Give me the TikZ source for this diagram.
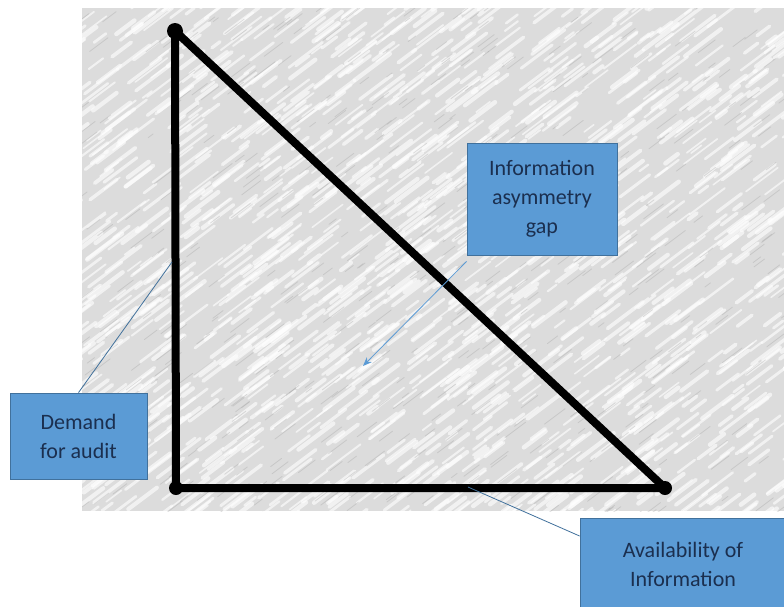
\documentclass[tikz,border=0pt]{standalone}
\usepackage{fontspec}
\setmainfont{Carlito}
\usetikzlibrary{arrows.meta}
\definecolor{boxfill}{HTML}{5B9BD5}
\definecolor{boxline}{HTML}{41719C}
\definecolor{boxtext}{HTML}{1B2F4F}
\definecolor{bggray}{HTML}{DCDCDC}
\tikzset{
  callout/.style={draw=boxline, fill=boxfill, line width=0.8pt, text=boxtext,
    align=center, font=\fontsize{22}{29}\selectfont, inner sep=0pt},
  leader/.style={draw=boxline, line width=0.8pt},
  edgeline/.style={draw=black, line width=8pt, line cap=round, line join=round}
}
\begin{document}
\begin{tikzpicture}[x=1pt,y=-1pt]
\useasboundingbox (0,0) rectangle (784,606);
\fill[white] (0,0) rectangle (784,606);
% textured background
\fill[bggray] (82,8) rectangle (784,511);
\begin{scope}
\clip (82,8) rectangle (784,511);
\pgfmathsetseed{7}
\foreach \i in {1,...,1600}{
  \pgfmathsetmacro{\xa}{60+rnd*740}
  \pgfmathsetmacro{\ya}{8+rnd*530}
  \pgfmathsetmacro{\ll}{10+rnd*35}
  \pgfmathsetmacro{\ww}{1.5+rnd*3}
  \draw[white, opacity=0.6, line width=\ww pt, line cap=round] (\xa,\ya) -- ++(\ll*0.8,-\ll*0.6);
}
\foreach \i in {1,...,500}{
  \pgfmathsetmacro{\xa}{60+rnd*740}
  \pgfmathsetmacro{\ya}{8+rnd*530}
  \pgfmathsetmacro{\ll}{6+rnd*20}
  \draw[gray!80, opacity=0.3, line width=0.8pt, line cap=round] (\xa,\ya) -- ++(\ll*0.8,-\ll*0.6);
}
\end{scope}
% triangle
\coordinate (top) at (175,31);
\coordinate (bl) at (176,488);
\coordinate (br) at (665,488);
\draw[edgeline] (top) -- (bl) -- (br) -- cycle;
\fill[black] (top) circle (8);
\fill[black] (br) circle (7);
\fill[black] (bl) circle (7);
% boxes
\node[callout, minimum width=150, minimum height=112] (gap) at (542,199) {Information\\asymmetry\\gap};
\node[callout, minimum width=137, minimum height=86] (dem) at (78.5,436) {Demand\\for audit};
\node[callout, minimum width=206, minimum height=92] (avail) at (683,564) {Availability of\\Information};
% leaders
\coordinate (gapend) at (363,366);
\coordinate (demend) at (172,262);
\coordinate (availend) at (468,487);
\draw[leader, draw=boxfill, -{Stealth[length=9pt,width=7pt]}] (gap.south west) ++(0,6) -- (gapend);
\draw[leader] (dem.north) -- (demend);
\draw[leader] (avail.west) ++(0,-28) -- (availend);
\end{tikzpicture}
\end{document}
